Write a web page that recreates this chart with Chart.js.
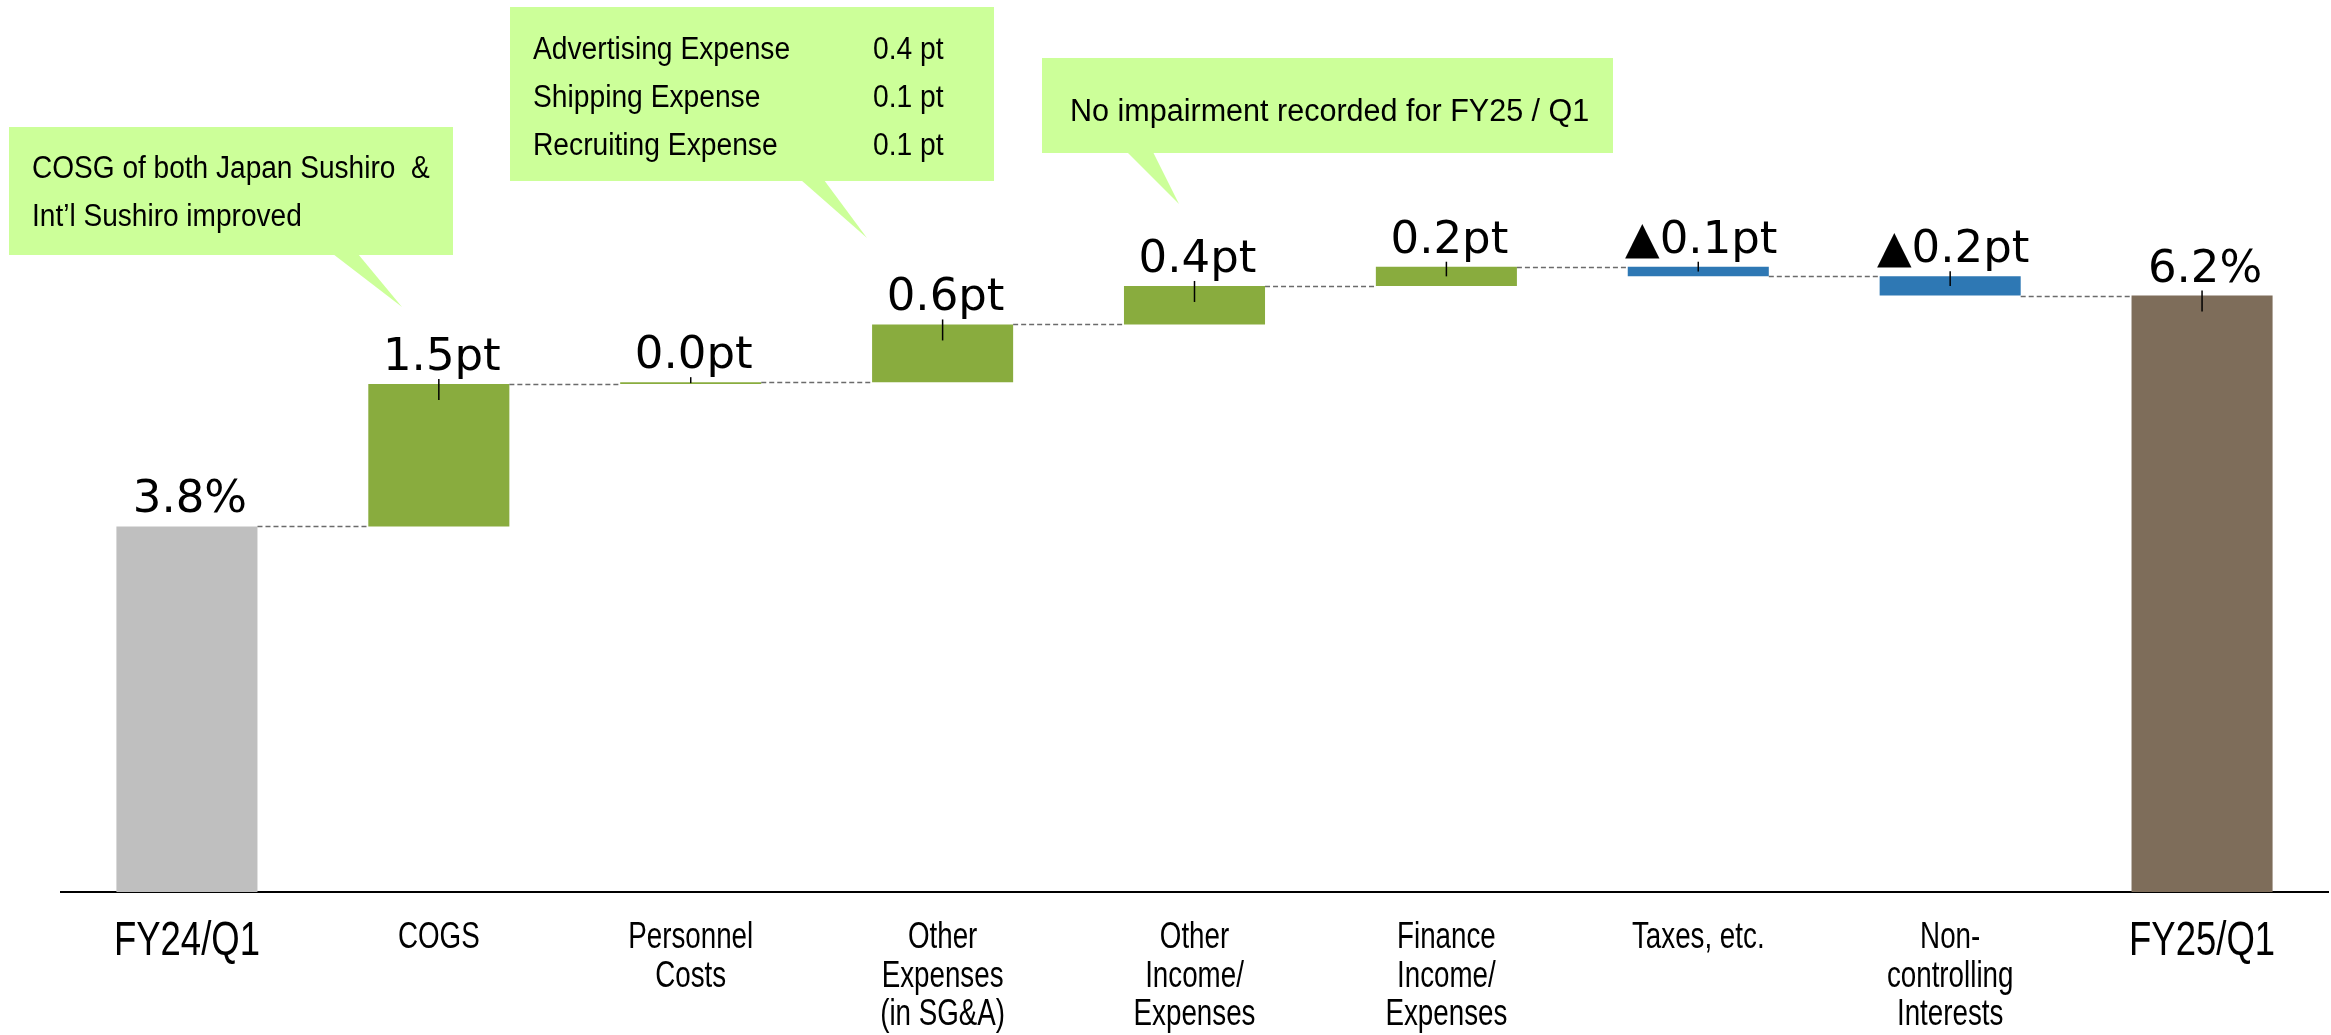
<!DOCTYPE html>
<html>
<head>
<meta charset="utf-8">
<script src="https://cdn.jsdelivr.net/npm/chart.js@4.4.1/dist/chart.umd.min.js"></script>
<style>
  html, body { margin: 0; padding: 0; background: #fff; }
  #wrap { width: 2331px; height: 1035px; }
</style>
</head>
<body>
<div id="wrap"><canvas id="bridge" width="2331" height="1035"></canvas></div>
<script>
// ---- data ----
const categories = [
  ['FY24/Q1'],
  ['COGS'],
  ['Personnel', 'Costs'],
  ['Other', 'Expenses', '(in SG&A)'],
  ['Other', 'Income/', 'Expenses'],
  ['Finance', 'Income/', 'Expenses'],
  ['Taxes, etc.'],
  ['Non-', 'controlling', 'Interests'],
  ['FY25/Q1']
];
const startValue = 3.8;
const deltas = [1.48, 0.02, 0.6, 0.4, 0.2, -0.1, -0.2];
const endValue = 6.2;
const valueLabels = ['3.8%', '1.5pt', '0.0pt', '0.6pt', '0.4pt', '0.2pt', '▲0.1pt', '▲0.2pt', '6.2%'];
const barColors = ['#BFBFBF', '#89AC3E', '#89AC3E', '#89AC3E', '#89AC3E', '#89AC3E', '#2E78B4', '#2E78B4', '#7E6D5A'];

// floating bars [low, high] built from the deltas
const floating = [[0, startValue]];
let level = startValue;
deltas.forEach(d => {
  floating.push([Math.min(level, level + d), Math.max(level, level + d)]);
  level += d;
});
floating.push([0, endValue]);

// level each bar ends on (for the dashed connectors)
const levels = [startValue];
let run = startValue;
deltas.forEach(d => { run += d; levels.push(run); });

const SANS = '"Liberation Sans", Arial, sans-serif';

/* =========================
   CALLOUT BOXES (layout only)
========================= */
const callouts = [
  {
    box: [9, 127, 453, 255], tail: [333, 358, 402, 307],
    size: 31, squeeze: 0.905,
    lines: [
      { text: 'COSG of both Japan Sushiro  &', x: 32, y: 178 },
      { text: 'Int’l Sushiro improved', x: 32, y: 226 }
    ]
  },
  {
    box: [510, 7, 994, 181], tail: [801, 824, 867, 238],
    size: 31, squeeze: 0.91,
    lines: [
      { text: 'Advertising Expense', x: 533, y: 59 },
      { text: 'Shipping Expense', x: 533, y: 107 },
      { text: 'Recruiting Expense', x: 533, y: 155 },
      { text: '0.4 pt', x: 873, y: 59 },
      { text: '0.1 pt', x: 873, y: 107 },
      { text: '0.1 pt', x: 873, y: 155 }
    ]
  },
  {
    box: [1042, 58, 1613, 153], tail: [1127, 1153, 1179, 204],
    size: 31, squeeze: 0.985,
    lines: [
      { text: 'No impairment recorded for FY25 / Q1', x: 1070, y: 121 }
    ]
  }
];

function squeezedText(ctx, text, x, y, size, k, align) {
  ctx.save();
  ctx.translate(x, y);
  ctx.scale(k, 1);
  ctx.font = size + 'px ' + SANS;
  ctx.textAlign = align;
  ctx.textBaseline = 'alphabetic';
  ctx.fillText(text, 0, 0);
  ctx.restore();
}

const bridgePlugin = {
  id: 'bridge',
  afterDatasetsDraw(chart) {
    const ctx = chart.ctx;
    const meta = chart.getDatasetMeta(0);
    const x = chart.scales.x;
    const y = chart.scales.y;
    ctx.save();

    // dashed connectors between bars
    ctx.strokeStyle = '#6b6b6b';
    ctx.lineWidth = 1.5;
    ctx.setLineDash([5, 3]);
    for (let i = 0; i < meta.data.length - 1; i++) {
      const a = meta.data[i], b = meta.data[i + 1];
      const py = Math.round(y.getPixelForValue(levels[i])) + 0.5;
      ctx.beginPath();
      ctx.moveTo(a.x + a.width / 2, py);
      ctx.lineTo(b.x - b.width / 2, py);
      ctx.stroke();
    }

    // small leader tick + value label
    ctx.setLineDash([]);
    meta.data.forEach((bar, i) => {
      const top = Math.min(bar.y, bar.base);
      const h = Math.abs(bar.base - bar.y);
      if (i > 0) {
        ctx.strokeStyle = '#000';
        ctx.lineWidth = 1.5;
        ctx.beginPath();
        ctx.moveTo(bar.x, top - 5);
        ctx.lineTo(bar.x, top + Math.min(16, h / 2));
        ctx.stroke();
      }
      ctx.fillStyle = '#000';
      ctx.font = '45px "DejaVu Sans", Verdana, sans-serif';
      ctx.textAlign = 'center';
      ctx.textBaseline = 'alphabetic';
      ctx.fillText(valueLabels[i], bar.x + 3, top - 14);
    });

    // category labels (condensed, drawn at the scale's tick positions)
    ctx.fillStyle = '#000';
    categories.forEach((lines, i) => {
      const big = (i === 0 || i === categories.length - 1);
      const px = x.getPixelForTick(i);
      const base = big ? 955 - 892 : 948 - 892;
      lines.forEach((line, j) => {
        squeezedText(ctx, line, px, x.top + base + j * 38.5,
          big ? 48 : 37, big ? 0.76 : 0.75, 'center');
      });
    });
    ctx.restore();
  },

  afterDraw(chart) {
    const ctx = chart.ctx;
    ctx.save();
    callouts.forEach(c => {
      const [x1, y1, x2, y2] = c.box;
      const [t1, t2, tx, ty] = c.tail;
      ctx.fillStyle = '#CCFF99';
      ctx.fillRect(x1, y1, x2 - x1, y2 - y1);
      ctx.beginPath();
      ctx.moveTo(t1, y2 - 1);
      ctx.lineTo(t2, y2 - 1);
      ctx.lineTo(tx, ty);
      ctx.closePath();
      ctx.fill();

      ctx.fillStyle = '#000';
      c.lines.forEach(l => squeezedText(ctx, l.text, l.x, l.y, c.size, c.squeeze, 'left'));
    });
    ctx.restore();
  }
};

/* =========================
   MAIN CHART
========================= */
function createChart() {
  const ctx = document.getElementById('bridge').getContext('2d');

  new Chart(ctx, {
    type: 'bar',
    data: {
      labels: categories,
      datasets: [
        {
          data: floating,
          backgroundColor: barColors,
          borderWidth: 0,
          borderSkipped: false,
          barPercentage: 0.56,
          categoryPercentage: 1.0
        }
      ]
    },
    options: {
      responsive: false,
      animation: false,
      devicePixelRatio: 1,
      layout: {
        padding: { left: 61, right: 3, top: 7, bottom: 0 }
      },
      scales: {
        x: {
          grid: { display: false },
          border: { display: true, color: '#000', width: 2 },
          afterFit: (scale) => { scale.height = 143; },
          ticks: { display: false }
        },
        y: {
          display: false,
          min: 0,
          max: 9.2
        }
      },
      plugins: {
        legend: { display: false },
        tooltip: { enabled: false }
      }
    },
    plugins: [bridgePlugin]
  });
}

createChart();
</script>
</body>
</html>
